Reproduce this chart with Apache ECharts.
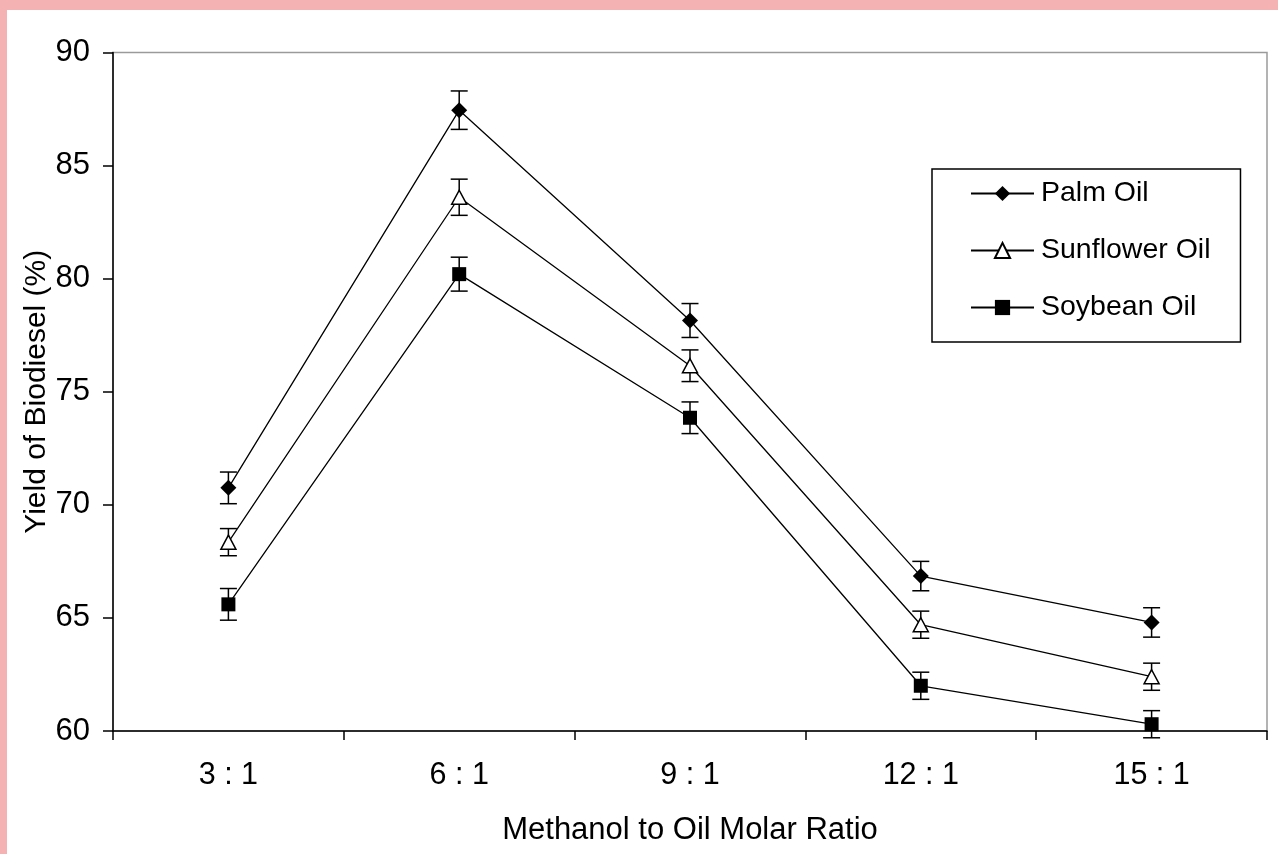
<!DOCTYPE html>
<html>
<head>
<meta charset="utf-8">
<script src="https://cdn.jsdelivr.net/npm/echarts@6/dist/echarts.min.js"></script>
<style>
  html, body { margin: 0; padding: 0; background: #f4b2b3; width: 1278px; height: 854px; overflow: hidden; }
  #chart { position: absolute; left: 7px; top: 10px; width: 1271px; height: 844px; background: #ffffff; }
</style>
</head>
<body>
<div id="chart"></div>
<script>
const categories = ['3 : 1', '6 : 1', '9 : 1', '12 : 1', '15 : 1'];
const palmValues = [70.75, 87.45, 78.15, 66.85, 64.8];
const palmErrors = [0.7, 0.85, 0.75, 0.65, 0.65];
const sunflowerValues = [68.35, 83.6, 76.15, 64.7, 62.4];
const sunflowerErrors = [0.6, 0.8, 0.7, 0.6, 0.6];
const soybeanValues = [65.6, 80.2, 73.85, 62.0, 60.3];
const soybeanErrors = [0.7, 0.75, 0.7, 0.6, 0.6];
const yTicks = [60, 65, 70, 75, 80, 85, 90];

const FONT = "'Liberation Sans', Arial, sans-serif";
const chart = echarts.init(document.getElementById('chart'));

function errData(vals, errs) {
  return vals.map((v, i) => [i, v - errs[i], v + errs[i]]);
}
function errSeries(vals, errs) {
  return {
    type: 'custom',
    silent: true,
    z: 1,
    data: errData(vals, errs),
    renderItem: function (params, api) {
      const x = api.value(0);
      const lo = api.coord([x, api.value(1)]);
      const hi = api.coord([x, api.value(2)]);
      const hw = 8.5;
      const st = { stroke: '#000', lineWidth: 1.5 };
      return {
        type: 'group',
        children: [
          { type: 'line', shape: { x1: hi[0], y1: hi[1], x2: lo[0], y2: lo[1] }, style: st },
          { type: 'line', shape: { x1: hi[0] - hw, y1: hi[1], x2: hi[0] + hw, y2: hi[1] }, style: st },
          { type: 'line', shape: { x1: lo[0] - hw, y1: lo[1], x2: lo[0] + hw, y2: lo[1] }, style: st }
        ]
      };
    }
  };
}
function lineSeries(name, vals, symbol, size, filled) {
  return {
    name: name,
    type: 'line',
    z: 3,
    data: vals,
    symbol: symbol,
    symbolSize: size,
    showAllSymbol: true,
    lineStyle: { color: '#000', width: 1.3 },
    itemStyle: { color: filled ? '#000' : '#fff', borderColor: '#000', borderWidth: filled ? 0 : 1.5 },
    emphasis: { disabled: true },
    animation: false
  };
}

chart.setOption({
  animation: false,
  backgroundColor: '#ffffff',
  grid: {
    left: 106, right: 11, top: 42.5, bottom: 123,
    outerBoundsMode: 'none',
    containLabel: false,
    show: true, borderColor: '#9a9a9a', borderWidth: 1.5, backgroundColor: 'transparent'
  },
  legend: {
    data: ['Palm Oil', 'Sunflower Oil', 'Soybean Oil'],
    orient: 'vertical',
    left: 925,
    top: 159,
    padding: [10, 30, 20, 38],
    itemGap: 28,
    itemWidth: 63,
    itemHeight: 19,
    borderColor: '#000',
    borderWidth: 1.5,
    borderRadius: 0,
    backgroundColor: '#fff',
    textStyle: { fontFamily: FONT, fontSize: 28.5, color: '#000', padding: [0, 0, 0, 2] },
    selectedMode: false
  },
  xAxis: {
    type: 'category',
    data: categories,
    boundaryGap: true,
    name: 'Methanol to Oil Molar Ratio',
    nameLocation: 'middle',
    nameGap: 84,
    nameTextStyle: { fontFamily: FONT, fontSize: 31, color: '#000' },
    axisLine: { lineStyle: { color: '#000', width: 1.5 } },
    axisTick: { show: true, alignWithLabel: false, length: 9, lineStyle: { color: '#000', width: 1.5 } },
    axisLabel: { fontFamily: FONT, fontSize: 30.5, color: '#000', margin: 29 },
    splitLine: { show: false }
  },
  yAxis: {
    type: 'value',
    min: yTicks[0],
    max: yTicks[yTicks.length - 1],
    interval: 5,
    name: 'Yield of Biodiesel (%)',
    nameLocation: 'middle',
    nameGap: 61,
    nameMoveOverlap: false,
    nameTextStyle: { fontFamily: FONT, fontSize: 30, color: '#000' },
    axisLine: { show: true, lineStyle: { color: '#000', width: 1.5 } },
    axisTick: { show: true, length: 10, lineStyle: { color: '#000', width: 1.5 } },
    axisLabel: { fontFamily: FONT, fontSize: 31, color: '#000', margin: 23 },
    splitLine: { show: false }
  },
  series: [
    errSeries(palmValues, palmErrors),
    errSeries(sunflowerValues, sunflowerErrors),
    errSeries(soybeanValues, soybeanErrors),
    lineSeries('Palm Oil', palmValues, 'diamond', [16, 16], true),
    lineSeries('Sunflower Oil', sunflowerValues, 'triangle', [15, 14], false),
    lineSeries('Soybean Oil', soybeanValues, 'rect', [14, 14], true)
  ]
});
</script>
</body>
</html>
